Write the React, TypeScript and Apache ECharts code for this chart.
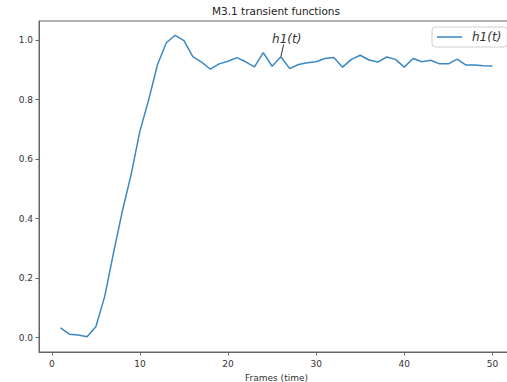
import React, { useEffect, useRef } from "react";
import * as echarts from "echarts";

const frames = [1, 2, 3, 4, 5, 6, 7, 8, 9, 10, 11, 12, 13, 14, 15, 16, 17, 18, 19, 20, 21, 22, 23, 24, 25, 26, 27, 28, 29, 30, 31, 32, 33, 34, 35, 36, 37, 38, 39, 40, 41, 42, 43, 44, 45, 46, 47, 48, 49, 50];
const h1 = [0.033, 0.012, 0.009, 0.003, 0.037, 0.138, 0.284, 0.424, 0.548, 0.694, 0.800, 0.918, 0.991, 1.016, 0.998, 0.944, 0.926, 0.902, 0.920, 0.929, 0.941, 0.927, 0.910, 0.958, 0.912, 0.944, 0.904, 0.918, 0.924, 0.927, 0.938, 0.941, 0.909, 0.935, 0.949, 0.933, 0.926, 0.943, 0.935, 0.909, 0.938, 0.927, 0.932, 0.920, 0.920, 0.936, 0.916, 0.916, 0.914, 0.913];
const xTicks = [0, 10, 20, 30, 40, 50];
const yTicks = [0, 0.2, 0.4, 0.6, 0.8, 1.0];
const seriesName = "h1(t)";
const titleText = "M3.1 transient functions";
const xName = "Frames (time)";
const annotFrame = 26;
const annotTextPos = [25, 0.992];

const FONT = "DejaVu Sans";

export default function App() {
  const ref = useRef<HTMLDivElement>(null);
  useEffect(() => {
    if (!ref.current) return;
    const chart = echarts.init(ref.current, null, { renderer: "svg" });
    const data = frames.map((f, i) => [f, h1[i]]);
    chart.setOption({
      animation: false,
      backgroundColor: "#ffffff",
      textStyle: { fontFamily: FONT },
      title: {
        text: titleText,
        left: 212,
        top: 5,
        padding: 0,
        textStyle: { fontFamily: FONT, fontSize: 10.5, fontWeight: "normal", color: "#222" },
      },
      grid: {
        left: 39,
        right: 0,
        top: 21,
        bottom: 30,
        containLabel: false,
        outerBoundsMode: "none",
        show: true,
        borderColor: "#666",
        borderWidth: 1,
        backgroundColor: "transparent",
      },
      legend: {
        left: 432,
        top: 27,
        padding: [4, 6, 4, 5],
        icon: "rect",
        itemWidth: 25,
        itemHeight: 1.5,
        backgroundColor: "rgba(255,255,255,0.8)",
        borderColor: "#d0d0d0",
        borderWidth: 1,
        borderRadius: 3,
        data: [{ name: seriesName }],
        textStyle: {
          fontFamily: FONT,
          fontSize: 12,
          fontStyle: "italic",
          color: "#333",
          padding: [0, 0, 0, 5],
        },
      },
      xAxis: {
        type: "value",
        min: -1.45,
        max: 52.45,
        name: xName,
        nameLocation: "middle",
        nameGap: 19,
        nameTextStyle: { fontFamily: FONT, fontSize: 9, color: "#333" },
        splitLine: { show: false },
        axisLine: { show: true, onZero: false, lineStyle: { color: "#666", width: 1 } },
        axisTick: { show: true, length: 3.5, customValues: xTicks, lineStyle: { color: "#666" } },
        axisLabel: {
          customValues: xTicks,
          margin: 7.5,
          fontFamily: FONT,
          fontSize: 9,
          color: "#333",
          formatter: (v: number) => String(Math.round(v)),
        },
      },
      yAxis: {
        type: "value",
        min: -0.048,
        max: 1.064,
        splitLine: { show: false },
        axisLine: { show: true, onZero: false, lineStyle: { color: "#666", width: 1 } },
        axisTick: { show: true, length: 3.5, customValues: yTicks, lineStyle: { color: "#666" } },
        axisLabel: {
          customValues: yTicks,
          margin: 6,
          fontFamily: FONT,
          fontSize: 9,
          color: "#333",
          formatter: (v: number) => v.toFixed(1),
        },
      },
      series: [
        {
          name: seriesName,
          type: "line",
          data,
          symbol: "none",
          showSymbol: false,
          lineStyle: { color: "#3a88c4", width: 1.5 },
          itemStyle: { color: "#3a88c4" },
        },
      ],
    });

    const pt = chart.convertToPixel({ gridIndex: 0 }, [annotFrame, h1[annotFrame - 1]]) as number[];
    const tp = chart.convertToPixel({ gridIndex: 0 }, annotTextPos) as number[];
    chart.setOption({
      graphic: [
        {
          type: "text",
          x: tp[0],
          y: tp[1] + 3,
          style: {
            text: seriesName,
            fontFamily: FONT,
            fontSize: 12,
            fontStyle: "italic",
            fill: "#333",
            align: "left",
            verticalAlign: "bottom",
          },
        },
        {
          type: "line",
          shape: { x1: tp[0] + 11.5, y1: tp[1] + 2, x2: pt[0], y2: pt[1] },
          style: { stroke: "#333", lineWidth: 1 },
        },
      ],
    });
    return () => chart.dispose();
  }, []);
  return (
    <div style={{ position: "fixed", left: 0, top: 0, width: 507, height: 382, overflow: "hidden", background: "#fff" }}>
      <div ref={ref} style={{ width: 514, height: 382 }} />
    </div>
  );
}
